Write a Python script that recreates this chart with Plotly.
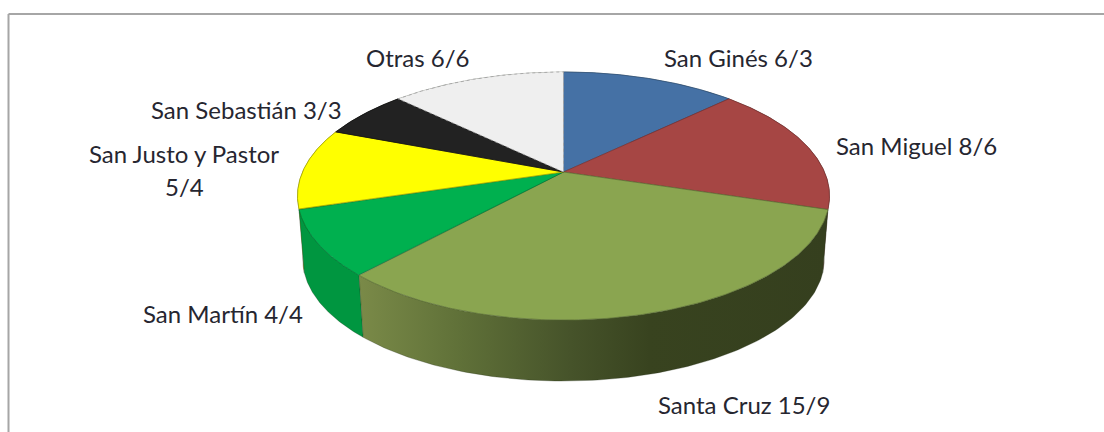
import numpy as np
import plotly.graph_objects as go

names = ["San Ginés", "San Miguel", "Santa Cruz", "San Martín", "San Justo y Pastor", "San Sebastián", "Otras"]
first = [6, 8, 15, 4, 5, 3, 6]
second = [3, 6, 9, 4, 4, 3, 6]
top_colors = ["#4571a5", "#a64644", "#8aa550", "#00b04f", "#ffff00", "#222222", "#efefef"]
edge_colors = ["#34557c", "#7c3433", "#5f7337", "#007a37", "#a8a800", "#111111", "#a0a0a0"]
side_colors = ["#2f4a6e", "#6e2e2d", "#3a451f", "#009640", "#b0b000", "#111111", "#a0a0a0"]
label_x = [738, 916, 744, 223, 184, 246, 417]
label_y = [[57], [145], [404], [313], [153, 186], [109], [57]]
label_lines = [None, None, None, None, ["San Justo y Pastor", "5/4"], None, None]

APEX_X, APEX_Y = 563.5, 172
A, B, K = 119.4, 261, 0.1935
BASE_Y, BASE_S = 236, 0.98


def project(theta, cy, s):
    u, v = np.sin(theta), -np.cos(theta)
    w = 1 - K * v
    return APEX_X + s * B * u / w, cy + s * A * v / w


edges = np.cumsum([0] + first) / sum(first) * 2 * np.pi
fig = go.Figure()

order = np.argsort([-abs(((edges[i] + edges[i + 1]) / 2) - np.pi) for i in range(len(first))])
for i in order:
    t = np.linspace(edges[i], edges[i + 1], 120)
    x1, y1 = project(t, APEX_Y, 1)
    x2, y2 = project(t[::-1], BASE_Y, BASE_S)
    kw = {}
    if names[i] == "Santa Cruz":
        kw["fillgradient"] = dict(type="horizontal", colorscale=[
            [0, "#7a8a48"], [0.22, "#5f7038"], [0.45, "#46532a"], [0.62, "#38431f"], [1, "#353f1e"]])
    else:
        kw["fillcolor"] = side_colors[i]
    fig.add_trace(go.Scatter(x=np.r_[x1, x2, x1[0]], y=np.r_[y1, y2, y1[0]], mode="lines", fill="toself",
                             line=dict(color="rgba(30,40,20,0.45)", width=0.6), hoverinfo="skip", showlegend=False, **kw))

for i in range(len(first)):
    t = np.linspace(edges[i], edges[i + 1], 160)
    x, y = project(t, APEX_Y, 1)
    dash = "dot" if names[i] == "Otras" else "solid"
    fig.add_trace(go.Scatter(x=np.r_[APEX_X, x, APEX_X], y=np.r_[APEX_Y, y, APEX_Y], mode="lines", fill="toself",
                             fillcolor=top_colors[i], line=dict(color=edge_colors[i], width=0.8, dash=dash),
                             name=names[i], hoverinfo="skip", showlegend=False))

for i, n in enumerate(names):
    lines = label_lines[i] or [f"{n} {first[i]}/{second[i]}"]
    for txt, ly in zip(lines, label_y[i]):
        fig.add_annotation(x=label_x[i], y=ly, text=txt, showarrow=False, xanchor="center", yanchor="middle",
                           font=dict(family="Lato", size=24, color="#262630"))

frame = dict(type="line", xref="paper", yref="paper", line=dict(color="#a6a6a6", width=2))
fig.add_shape(x0=8.5 / 1104, x1=1, y0=1 - 14 / 432, y1=1 - 14 / 432, **frame)
fig.add_shape(x0=8.5 / 1104, x1=8.5 / 1104, y0=0, y1=1 - 14 / 432, **frame)

fig.update_layout(width=1104, height=432, margin=dict(l=0, r=0, t=0, b=0), paper_bgcolor="white", plot_bgcolor="white",
                  xaxis=dict(range=[0, 1104], visible=False, fixedrange=True),
                  yaxis=dict(range=[432, 0], visible=False, fixedrange=True), showlegend=False)
fig.write_html("out.html", config={"displayModeBar": False},
               post_script="document.body.style.margin='0';document.documentElement.style.overflow='hidden';")
